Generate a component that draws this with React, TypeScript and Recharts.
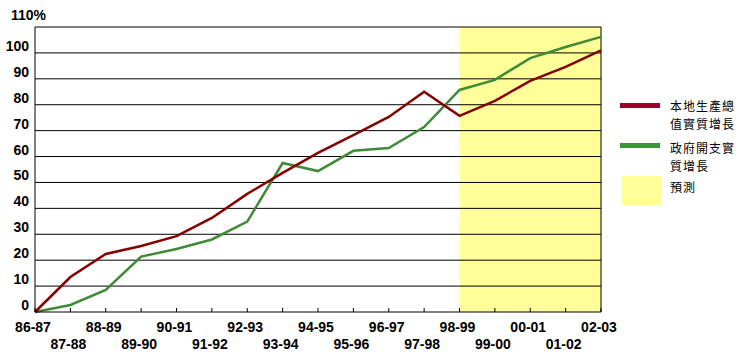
import React from 'react';
import { LineChart, Line, XAxis, YAxis, ReferenceArea, ReferenceLine } from 'recharts';

const years = [
  '86-87', '87-88', '88-89', '89-90', '90-91', '91-92', '92-93', '93-94', '94-95',
  '95-96', '96-97', '97-98', '98-99', '99-00', '00-01', '01-02', '02-03',
];
const gdpGrowth = [0, 13.5, 22.4, 25.5, 29.3, 36.3, 45.6, 53.7, 61.4, 68.3, 75.3, 85, 75.7, 81.5, 89.2, 94.6, 101];
const govGrowth = [0, 2.7, 8.5, 21.4, 24.3, 28, 34.9, 57.5, 54.4, 62.2, 63.3, 71.4, 85.7, 89.6, 98, 102.3, 106.2];
const yTicks = [0, 10, 20, 30, 40, 50, 60, 70, 80, 90, 100, 110];
const forecastFrom = '98-99';
const forecastTo = '02-03';

const data = years.map((year, i) => ({ year, gdp: gdpGrowth[i], gov: govGrowth[i] }));

const tickFont = '"Liberation Sans Narrow", "Arial Narrow", sans-serif';

const YTick = (props: any) => {
  const { y, payload } = props;
  if (payload.value === 110) {
    return (
      <text x={11} y={y - 12} fontFamily={tickFont} fontWeight="bold" fontSize={14} fill="#000" dominantBaseline="central">
        110%
      </text>
    );
  }
  return (
    <text x={29} y={y - 7} textAnchor="end" fontFamily={tickFont} fontWeight="bold" fontSize={14} fill="#000" dominantBaseline="central">
      {payload.value}
    </text>
  );
};

const XTick = (props: any) => {
  const { x, y, payload, index } = props;
  const row = index % 2;
  return (
    <g>
      <line x1={x} x2={x} y1={y - 4} y2={y} stroke="#000" strokeWidth={1} />
      <text x={x - 2} y={y + (row ? 32 : 15)} textAnchor="middle" fontFamily={tickFont} fontWeight="bold" fontSize={14} fill="#000" dominantBaseline="central">
        {payload.value}
      </text>
    </g>
  );
};

const legendText: React.CSSProperties = {
  position: 'absolute',
  left: 670,
  fontFamily: '"Noto Sans CJK TC", sans-serif',
  fontSize: 12,
  lineHeight: '18px',
  height: 18,
  whiteSpace: 'nowrap',
  letterSpacing: 1,
  color: '#000',
};

export default function App() {
  return (
    <div style={{ position: 'absolute', left: 0, top: 0, width: 750, height: 360, background: '#fff' }}>
      <LineChart width={750} height={360} data={data} margin={{ top: 27, right: 149, bottom: 0, left: 0 }}>
        <ReferenceArea x1={forecastFrom} x2={forecastTo} y1={0} y2={110} fill="#FFFF99" fillOpacity={1} stroke="none" />
        {yTicks.filter((v) => v > 0).map((v) => (
          <ReferenceLine key={v} y={v} stroke="#000" strokeWidth={1} />
        ))}
        <ReferenceLine x={forecastTo} stroke="#000" strokeWidth={1} />
        <XAxis dataKey="year" interval={0} tickLine={false} tickSize={0} tickMargin={0} height={48} axisLine={{ stroke: '#000' }} tick={<XTick />} />
        <YAxis domain={[0, 110]} ticks={yTicks} interval={0} width={35} tickLine={false} tickSize={0} tickMargin={0} axisLine={{ stroke: '#000' }} tick={<YTick />} />
        <Line type="linear" dataKey="gov" stroke="#3f8a36" strokeWidth={2.5} dot={false} isAnimationActive={false} />
        <Line type="linear" dataKey="gdp" stroke="#850000" strokeWidth={2.5} dot={false} isAnimationActive={false} />
      </LineChart>
      <div style={{ position: 'absolute', left: 620, top: 103, width: 40, height: 5, background: '#A0002A' }} />
      <div style={{ ...legendText, top: 97 }}>本地生產總</div>
      <div style={{ ...legendText, top: 115 }}>值實質增長</div>
      <div style={{ position: 'absolute', left: 620, top: 143, width: 40, height: 5, background: '#339933' }} />
      <div style={{ ...legendText, top: 139 }}>政府開支實</div>
      <div style={{ ...legendText, top: 157 }}>質增長</div>
      <div style={{ position: 'absolute', left: 622, top: 176, width: 40, height: 29, background: '#FFFF99' }} />
      <div style={{ ...legendText, top: 178 }}>預測</div>
    </div>
  );
}
